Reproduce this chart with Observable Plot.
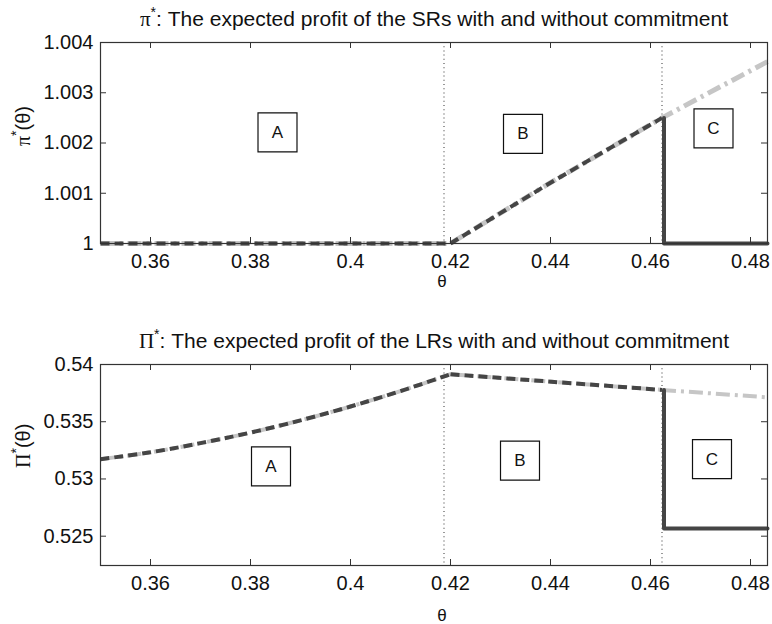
<!DOCTYPE html>
<html><head><meta charset="utf-8">
<script src="https://cdn.jsdelivr.net/npm/d3@7"></script>
<script src="https://cdn.jsdelivr.net/npm/@observablehq/plot@0.6"></script>
<style>body{margin:0;background:#fff;} svg{display:block;}</style>
</head><body><div id="chart"></div>
<script>
// ---- tick values and labels ----
const xTicks = [0.36, 0.38, 0.40, 0.42, 0.44, 0.46, 0.48];
const xTickLabels = ["0.36", "0.38", "0.4", "0.42", "0.44", "0.46", "0.48"];
const srTicks = [1, 1.001, 1.002, 1.003, 1.004];
const srTickLabels = ["1", "1.001", "1.002", "1.003", "1.004"];
const lrTicks = [0.525, 0.53, 0.535, 0.54];
const lrTickLabels = ["0.525", "0.53", "0.535", "0.54"];

// region boundaries (dotted lines)
const boundaries = [0.4187, 0.4623];

// ---- SR expected profit (top) ----
const srThetaWithout = [0.35, 0.42, 0.44, 0.4623, 0.4834];
const srWithout      = [1, 1, 1.00121, 1.00250, 1.00362];
const srThetaWith    = [0.35, 0.42, 0.44, 0.4623];
const srWith         = [1, 1, 1.00121, 1.00250];
const srThetaDrop    = [0.4627, 0.4627, 0.4834];
const srDrop         = [1.00250, 1, 1];

// ---- LR expected profit (bottom) ----
const lrThetaA       = [0.35, 0.36, 0.37, 0.38, 0.39, 0.40, 0.41, 0.42];
const lrA            = [0.53173, 0.53233, 0.53313, 0.53405, 0.53512, 0.53633, 0.53768, 0.53915];
const lrThetaB       = [0.42, 0.4623];
const lrB            = [0.53915, 0.53778];
const lrThetaC       = [0.4623, 0.4834];
const lrWithoutC     = [0.53778, 0.53713];
const lrThetaDrop    = [0.4627, 0.4627, 0.4834];
const lrDrop         = [0.53778, 0.52567, 0.52567];

// ---- region labels ----
const regionLabels = ["A", "B", "C"];
const srLabelTheta = [0.3854, 0.4345, 0.4726];
const srLabelY     = [1.00221, 1.00218, 1.00229];
const lrLabelTheta = [0.3841, 0.4339, 0.4723];
const lrLabelY     = [0.5311, 0.53161, 0.53173];

const titleTop = "π*: The expected profit of the SRs with and without commitment";
const titleBottom = "Π*: The expected profit of the LRs with and without commitment";
const yLabelTop = "π*(θ)";
const yLabelBottom = "Π*(θ)";
const xLabel = "θ";

const DARK = "#454545", LIGHT = "#c6c6c6", FRAME = "#333";
const W = 772, ML = 100, MR = 5;
const FW = W - ML - MR;
const FS = 20;

const zip = (xs, ys) => xs.map((x, i) => ({x, y: ys[i]}));

function panel(opts) {
  const {height, mt, mb, yDomain, yTicks, yTickLabels, lines,
         labTheta, labY, title, titleDy, yLabel, xLabelDy, lightWidth} = opts;
  const FH = height - mt - mb;
  const labels = regionLabels.map((t, i) => ({t, x: labTheta[i], y: labY[i]}));
  const lineMarks = [];
  for (const l of lines.light) lineMarks.push(Plot.line(l.data, {x: "x", y: "y", curve: l.curve || "linear", stroke: LIGHT, strokeWidth: lightWidth, strokeDasharray: "14,5,3,5", strokeLinecap: "butt"}));
  for (const l of lines.dashed) lineMarks.push(Plot.line(l.data, {x: "x", y: "y", curve: l.curve || "linear", stroke: DARK, strokeWidth: 4, strokeDasharray: "9,5", strokeLinecap: "butt"}));
  lineMarks.push(Plot.line(lines.drop, {x: "x", y: "y", stroke: DARK, strokeWidth: 4}));
  const svg = Plot.plot({
    width: W, height,
    marginLeft: ML, marginRight: MR, marginTop: mt, marginBottom: mb,
    style: {fontFamily: "'Liberation Sans', Arial, sans-serif", fontSize: FS + "px", background: "white", color: "#111"},
    x: {domain: [0.35, 0.4834], axis: null},
    y: {domain: yDomain, axis: null},
    marks: [
      Plot.ruleX(boundaries, {x: d => d, stroke: "#555", strokeWidth: 1.2, strokeDasharray: "1,3.2"}),
      ...lineMarks,
      Plot.frame({stroke: FRAME, strokeWidth: 1.2}),
      Plot.tickX(xTicks, {x: d => d, insetTop: FH - 6, stroke: FRAME}),
      Plot.tickX(xTicks, {x: d => d, insetBottom: FH - 6, stroke: FRAME}),
      Plot.tickY(yTicks, {y: d => d, insetRight: FW - 6, stroke: FRAME}),
      Plot.tickY(yTicks, {y: d => d, insetLeft: FW - 6, stroke: FRAME}),
      Plot.axisX(xTicks, {tickSize: 0, tickPadding: 10, fontSize: FS, tickFormat: d => xTickLabels[xTicks.indexOf(d)], label: null}),
      Plot.axisY(yTicks, {tickSize: 0, tickPadding: 7, fontSize: FS, tickFormat: d => yTickLabels[yTicks.indexOf(d)], label: null}),
      Plot.dot(labels, {x: "x", y: "y", symbol: "square", r: 22, fill: "white", stroke: "#111", strokeWidth: 1.2}),
      Plot.text(labels, {x: "x", y: "y", text: "t", fontSize: 17, fill: "#111"}),
      Plot.text([title], {frameAnchor: "top", lineAnchor: "middle", dy: titleDy, fontSize: 21, fill: "#111"}),
      Plot.text([xLabel], {frameAnchor: "bottom", lineAnchor: "middle", dx: 8, dy: xLabelDy, fontSize: 17, fill: "#111"}),
      Plot.text([yLabel], {frameAnchor: "left", lineAnchor: "middle", dx: -77, dy: 3, rotate: -90, fontSize: FS, fill: "#111"})
    ]
  });
  // superscript asterisks and serif Greek letter
  d3.select(svg).selectAll("text").each(function () {
    const t = this.textContent;
    const k = t.indexOf("*");
    if (k < 0 || this.querySelector("tspan")) return;
    const el = d3.select(this);
    el.text(null);
    el.append("tspan").attr("font-family", "'Liberation Serif', 'DejaVu Serif', serif").text(t.slice(0, k));
    el.append("tspan").attr("dy", "-9px").attr("font-size", "14px").text("*");
    el.append("tspan").attr("dy", "9px").text(t.slice(k + 1));
  });
  return svg;
}

const root = document.getElementById("chart");
root.appendChild(panel({
  height: 300, mt: 42, mb: 57,
  yDomain: [1, 1.004], yTicks: srTicks, yTickLabels: srTickLabels,
  lines: {
    light: [{data: zip(srThetaWithout, srWithout)}],
    dashed: [{data: zip(srThetaWith, srWith)}],
    drop: zip(srThetaDrop, srDrop)
  },
  labTheta: srLabelTheta, labY: srLabelY, lightWidth: 5,
  title: titleTop, titleDy: -23, yLabel: yLabelTop, xLabelDy: 38
}));
root.appendChild(panel({
  height: 324, mt: 64, mb: 59,
  yDomain: [0.52244, 0.54], yTicks: lrTicks, yTickLabels: lrTickLabels,
  lines: {
    light: [{data: zip(lrThetaA, lrA), curve: "catmull-rom"}, {data: zip(lrThetaB, lrB)}, {data: zip(lrThetaC, lrWithoutC)}],
    dashed: [{data: zip(lrThetaA, lrA), curve: "catmull-rom"}, {data: zip(lrThetaB, lrB)}],
    drop: zip(lrThetaDrop, lrDrop)
  },
  labTheta: lrLabelTheta, labY: lrLabelY, lightWidth: 4,
  title: titleBottom, titleDy: -23, yLabel: yLabelBottom, xLabelDy: 50
}));
</script></body></html>
